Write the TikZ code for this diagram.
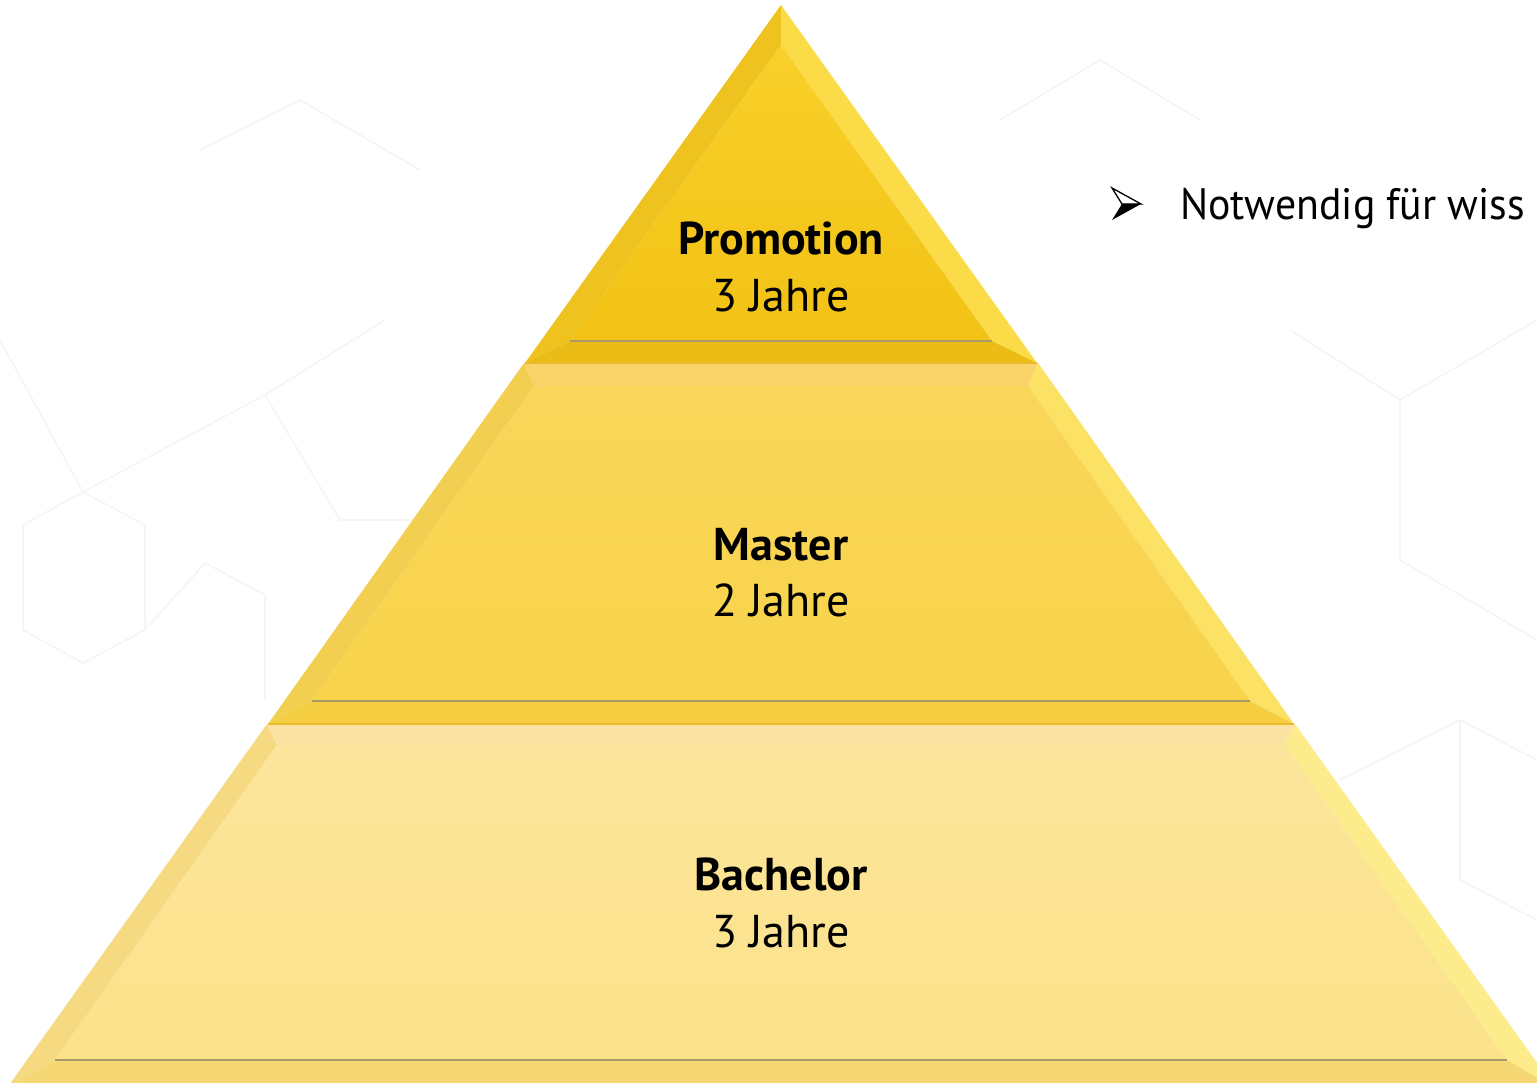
\documentclass[tikz,border=0pt]{standalone}
\usepackage{fontspec}
\setmainfont{PT Sans}
\newfontfamily\labfont{PT Sans}
\newfontfamily\notefont[FakeStretch=0.95]{PT Sans}
\usetikzlibrary{calc}
\definecolor{tAin}{HTML}{F9D02A}
\definecolor{tBin}{HTML}{F2C215}
\definecolor{tL}{HTML}{EEC21F}
\definecolor{tR}{HTML}{FBDC48}
\definecolor{tBot}{HTML}{ECBC16}
\definecolor{mAin}{HTML}{F9D65A}
\definecolor{mBin}{HTML}{F8D34A}
\definecolor{mT}{HTML}{F9D36A}
\definecolor{mL}{HTML}{F2CF50}
\definecolor{mR}{HTML}{FBE264}
\definecolor{mBot}{HTML}{F5CD40}
\definecolor{bAin}{HTML}{FCE59C}
\definecolor{bBin}{HTML}{FBE28A}
\definecolor{bT}{HTML}{FCE2A2}
\definecolor{bL}{HTML}{F5DA82}
\definecolor{bR}{HTML}{FDEC8C}
\definecolor{bBot}{HTML}{F5D874}
\definecolor{edge}{HTML}{E9BB2C}
\definecolor{baseln}{HTML}{A89A6A}
\definecolor{bgline}{HTML}{F7F5F1}
\tikzset{
  lab/.style={font=\labfont\fontsize{46}{50}\selectfont\bfseries, anchor=base, inner sep=0pt},
  sub/.style={font=\labfont\fontsize{46}{50}\selectfont, anchor=base, inner sep=0pt},
  baseline line/.style={draw=baseln, line width=1.2pt},
  edgeline/.style={draw=edge, line width=1.5pt},
  bgpat/.style={draw=bgline, line width=1.6pt}
}
\begin{document}
\begin{tikzpicture}[x=1pt,y=-1pt]
\useasboundingbox (0,0) rectangle (1537,1083);
\clip (0,0) rectangle (1537,1083);
\fill[white] (0,0) rectangle (1537,1083);
% faint background pattern
\draw[bgpat] (0,340) -- (83,492) -- (265,395) -- (385,320);
\draw[bgpat] (23,525) -- (83,492) -- (145,525) -- (145,630) -- (83,663) -- (23,630) -- cycle;
\draw[bgpat] (145,630) -- (205,563) -- (265,595) -- (265,700);
\draw[bgpat] (265,395) -- (340,520) -- (420,520);
\draw[bgpat] (1290,330) -- (1400,400) -- (1537,320);
\draw[bgpat] (1400,400) -- (1400,560) -- (1537,640);
\draw[bgpat] (1340,780) -- (1460,720) -- (1537,760);
\draw[bgpat] (1460,720) -- (1460,880) -- (1537,920);
\draw[bgpat] (1000,120) -- (1100,60) -- (1200,120);
\draw[bgpat] (200,150) -- (300,100) -- (420,170);
% ---------- top layer ----------
\coordinate (tA) at (781,5);
\coordinate (tBL) at (525,363);
\coordinate (tBR) at (1037,363);
\coordinate (tiA) at (781,45);
\coordinate (tiL) at (570,341);
\coordinate (tiR) at (992,341);
\fill[tL] (tA) -- (tBL) -- (tiL) -- (tiA) -- cycle;
\fill[tR] (tA) -- (tBR) -- (tiR) -- (tiA) -- cycle;
\fill[tBot] (tBL) -- (tBR) -- (tiR) -- (tiL) -- cycle;
\shade[top color=tAin, bottom color=tBin] (tiA) -- (tiR) -- (tiL) -- cycle;
\draw[baseline line] (tiL) -- (tiR);
% ---------- middle layer ----------
\coordinate (mTL) at (524,363);
\coordinate (mTR) at (1038,363);
\coordinate (mBL) at (268,724);
\coordinate (mBR) at (1294,724);
\coordinate (miTL) at (534,386);
\coordinate (miTR) at (1028,386);
\coordinate (miBL) at (312,701);
\coordinate (miBR) at (1250,701);
\fill[mT] (mTL) -- (mTR) -- (miTR) -- (miTL) -- cycle;
\fill[mL] (mTL) -- (mBL) -- (miBL) -- (miTL) -- cycle;
\fill[mR] (mTR) -- (mBR) -- (miBR) -- (miTR) -- cycle;
\fill[mBot] (mBL) -- (mBR) -- (miBR) -- (miBL) -- cycle;
\shade[top color=mAin, bottom color=mBin] (miTL) -- (miTR) -- (miBR) -- (miBL) -- cycle;
\draw[baseline line] (miBL) -- (miBR);
% ---------- bottom layer ----------
\coordinate (bTL) at (267,724);
\coordinate (bTR) at (1295,724);
\coordinate (bBL) at (7,1088);
\coordinate (bBR) at (1555,1088);
\coordinate (biTL) at (277,745);
\coordinate (biTR) at (1285,745);
\coordinate (biBL) at (55,1060);
\coordinate (biBR) at (1507,1060);
\fill[bT] (bTL) -- (bTR) -- (biTR) -- (biTL) -- cycle;
\fill[bL] (bTL) -- (bBL) -- (biBL) -- (biTL) -- cycle;
\fill[bR] (bTR) -- (bBR) -- (biBR) -- (biTR) -- cycle;
\fill[bBot] (bBL) -- (bBR) -- (biBR) -- (biBL) -- cycle;
\shade[top color=bAin, bottom color=bBin] (biTL) -- (biTR) -- (biBR) -- (biBL) -- cycle;
\draw[baseline line] (biBL) -- (biBR);
% layer seams
\draw[edgeline] (tBL) -- (tBR);
\draw[edgeline] (mBL) -- (mBR);
% ---------- labels ----------
\node[lab] (promo) at (781,255) {Promotion};
\node[sub] (promoY) at (781,312) {3 Jahre};
\node[lab] (master) at (781,560) {Master};
\node[sub] (masterY) at (781,616) {2 Jahre};
\node[lab] (bach) at (781,890) {Bachelor};
\node[sub] (bachY) at (781,947) {3 Jahre};
% ---------- bullet text ----------
\fill[black] (1112,220) -- (1141,204) -- (1122,204) -- cycle;
\draw[black, line width=1.3pt, line join=miter] (1112,188) -- (1141,204) -- (1122,204) -- cycle;
\node[font=\notefont\fontsize{44}{48}\selectfont, anchor=base west, inner sep=0pt] (note) at (1180,220) {Notwendig für wiss};
\end{tikzpicture}
\end{document}
